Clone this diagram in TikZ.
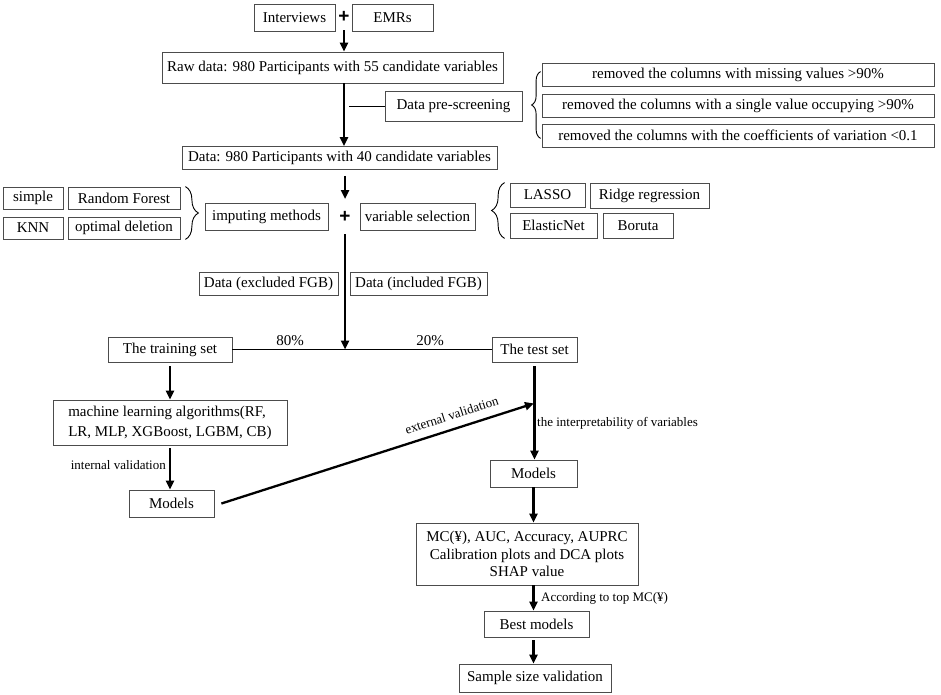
\documentclass[tikz,border=0pt]{standalone}
\usepackage{fontspec}
\setmainfont{Liberation Serif}
\newfontfamily\plusfont{Liberation Sans}
\usetikzlibrary{arrows.meta,decorations.pathreplacing,calc}
\begin{document}
\begin{tikzpicture}[x=1pt,y=-1pt,
  bx/.style={draw=black!70, line width=0.8pt, inner sep=0pt, font=\fontsize{15}{17}\selectfont},
  lbl/.style={font=\fontsize{13}{15}\selectfont, inner sep=0pt},
  pct/.style={font=\fontsize{15}{17}\selectfont, inner sep=0pt},
  pl/.style={font=\plusfont\fontsize{19}{19}\selectfont\bfseries, inner sep=0pt},
  arr/.style={line width=2.3pt, -{Triangle[length=9pt,width=8pt]}},
  thinline/.style={line width=0.9pt},
  br/.style={line width=0.9pt, decorate, decoration={brace, amplitude=#1}}]
\useasboundingbox (0,0) rectangle (941,694);
\fill[white] (0,0) rectangle (941,694);

% top
\node[bx, minimum width=81pt, minimum height=27pt] (int) at (294.5,17.5) {Interviews};
\node[pl] (plus1) at (344,17) {+};
\node[bx, minimum width=81pt, minimum height=27pt] (emr) at (392.5,17.5) {EMRs};
\node[bx, minimum width=341pt, minimum height=31pt] (raw) at (332.5,67.5) {Raw data: 980 Participants with 55 candidate variables};
\node[bx, minimum width=137pt, minimum height=30pt] (pre) at (453.5,106) {Data pre-screening};
\node[bx, minimum width=392pt, minimum height=23pt] (r1) at (738,74.5) {removed the columns with missing values >90\%};
\node[bx, minimum width=392pt, minimum height=23pt] (r2) at (738,105.5) {removed the columns with a single value occupying >90\%};
\node[bx, minimum width=392pt, minimum height=23pt] (r3) at (738,135.5) {removed the columns with the coefficients of variation <0.1};
\node[bx, minimum width=315pt, minimum height=23pt] (data) at (339.5,158) {Data: 980 Participants with 40 candidate variables};

% imputing / selection row
\node[bx, minimum width=60pt, minimum height=22pt] (simple) at (33,198) {simple};
\node[bx, minimum width=112pt, minimum height=22pt] (rf) at (124,198) {Random Forest};
\node[bx, minimum width=60pt, minimum height=22pt] (knn) at (33,228) {KNN};
\node[bx, minimum width=112pt, minimum height=22pt] (opt) at (124,228) {optimal deletion};
\node[bx, minimum width=123pt, minimum height=27pt] (imp) at (266.5,216.5) {imputing methods};
\node[pl] (plus2) at (345,217) {+};
\node[bx, minimum width=115pt, minimum height=27pt] (vs) at (417.5,216.5) {variable selection};
\node[bx, minimum width=75pt, minimum height=24pt] (lasso) at (547.5,195) {LASSO};
\node[bx, minimum width=119pt, minimum height=25pt] (ridge) at (649.5,196) {Ridge regression};
\node[bx, minimum width=87pt, minimum height=25pt] (elastic) at (553.5,225.5) {ElasticNet};
\node[bx, minimum width=70pt, minimum height=25pt] (boruta) at (638,225.5) {Boruta};

% data split
\node[bx, minimum width=139pt, minimum height=23pt] (dex) at (268.5,284) {Data (excluded FGB)};
\node[bx, minimum width=137pt, minimum height=23pt] (din) at (418.5,284) {Data (included FGB)};
\node[bx, minimum width=124pt, minimum height=25pt] (train) at (170,349.5) {The training set};
\node[bx, minimum width=85pt, minimum height=25pt] (test) at (534.5,349.5) {The test set};
\node[pct] (p80) at (290,341) {80\%};
\node[pct] (p20) at (430,341) {20\%};

% left column
\node[bx, minimum width=234pt, minimum height=45pt, align=left, font=\fontsize{15}{20}\selectfont] (ml) at (170,422.5) {machine learning algorithms(RF,\\LR, MLP, XGBoost, LGBM, CB)};
\node[bx, minimum width=85pt, minimum height=27pt] (m1) at (171.5,503.5) {Models};
\node[lbl, anchor=east] (iv) at (166,465) {internal validation};

% right column
\node[bx, minimum width=87pt, minimum height=27pt] (m2) at (533.5,473.5) {Models};
\node[lbl, anchor=west] (ip) at (537,423) {the interpretability of variables};
\node[bx, minimum width=222pt, minimum height=62pt, align=center, font=\fontsize{15}{17.5}\selectfont] (mc) at (527,554) {MC(¥), AUC, Accuracy, AUPRC\\Calibration plots and DCA plots\\SHAP value};
\node[bx, minimum width=105pt, minimum height=26pt] (best) at (536.5,624) {Best models};
\node[lbl, anchor=west] (acc) at (541,598) {According to top MC(¥)};
\node[bx, minimum width=152pt, minimum height=28pt] (ss) at (535,678) {Sample size validation};

% connectors
\draw[arr] ([yshift=-13pt]plus1.center) -- (plus1 |- raw.north);
\draw[arr] (raw.south -| plus1) -- (data.north -| plus1);
\draw[thinline] ([xshift=5pt]plus1 |- pre.west) -- (pre.west);
\draw[br=9pt] ([xshift=-1pt,yshift=9pt]r3.south west) -- ([xshift=-1pt,yshift=-9pt]r1.north west);
\draw[arr] ([yshift=-6pt]data.south -| plus2) -- ([yshift=18pt]plus2.center);
\draw[br=13pt] ([xshift=5pt]rf.north east) -- ([xshift=5pt]opt.south east);
\draw[br=13pt] ([xshift=-5pt]elastic.south west) -- ([xshift=-5pt]lasso.north west);
\coordinate (split) at (plus2 |- train.east);
\draw[arr] ([yshift=-17pt]plus2.center) -- (split);
\draw[thinline] (train.east) -- (test.west);
\draw[arr] ([yshift=-4pt]train.south) -- (train.south |- ml.north);
\draw[arr] ([yshift=-3pt]ml.south -| train.south) -- (train.south |- m1.north);
\coordinate (ext) at ($(test.south)+(-0.5,41)$);
\draw[arr] ([xshift=7pt]m1.east) -- node[lbl, sloped, above=8pt, pos=0.75] (evl) {external validation} (ext);
\draw[arr] ([yshift=-4pt]test.south) -- (test.south |- m2.north);
\draw[arr] (m2.south) -- (m2.south |- mc.north);
\draw[arr] (mc.south -| m2.south) -- (m2.south |- best.north);
\draw[arr] ([yshift=-3pt]best.south -| m2.south) -- (m2.south |- ss.north);
\end{tikzpicture}
\end{document}
